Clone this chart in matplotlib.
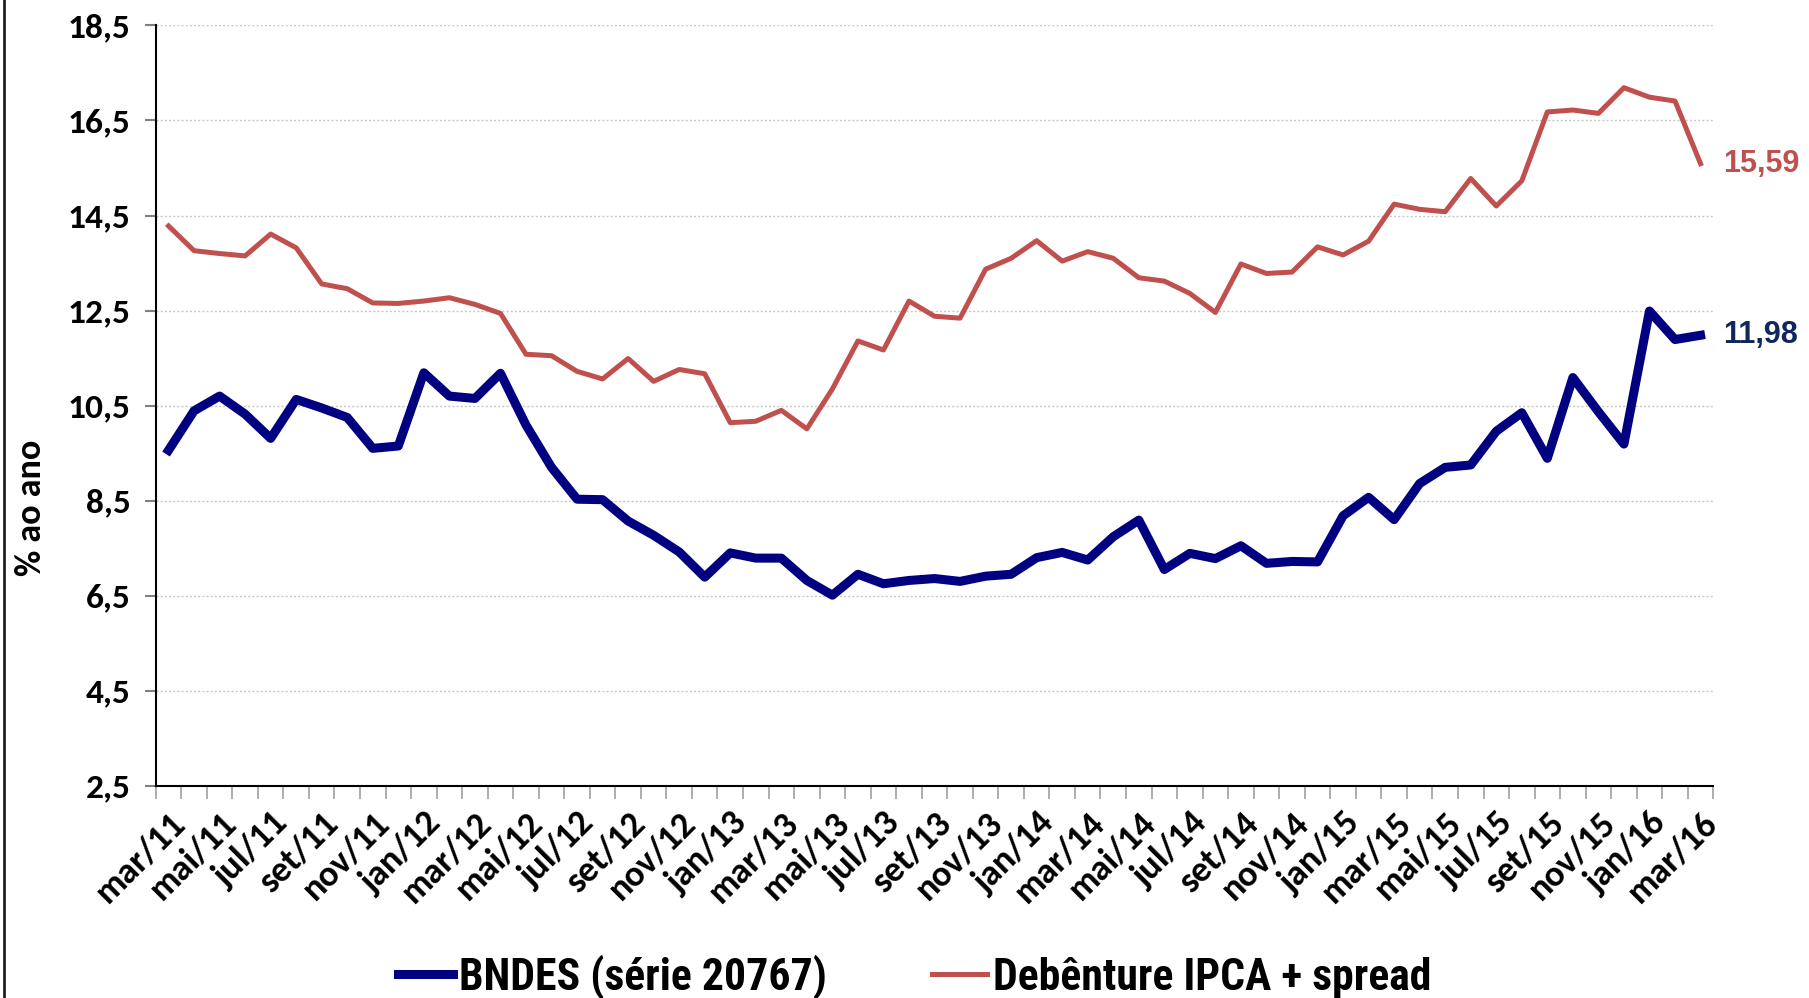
# recreate BNDES x Debenture chart
import numpy as np
import matplotlib.pyplot as plt
from matplotlib.lines import Line2D

# month labels mar/11 .. mar/16
meses = ['jan', 'fev', 'mar', 'abr', 'mai', 'jun', 'jul', 'ago', 'set', 'out', 'nov', 'dez']
datas = []
for ano in range(11, 17):
    for m in meses:
        datas.append(m + '/' + str(ano))
datas = datas[2:63]

# taxas (% ao ano)
bndes = [9.56, 10.39, 10.70, 10.32, 9.81, 10.63, 10.45, 10.25, 9.60, 9.65,
         11.19, 10.70, 10.65, 11.18, 10.09, 9.20, 8.53, 8.52, 8.07, 7.77,
         7.42, 6.89, 7.40, 7.29, 7.29, 6.82, 6.51, 6.95, 6.75, 6.82,
         6.86, 6.80, 6.91, 6.95, 7.30, 7.41, 7.25, 7.74, 8.09, 7.05,
         7.39, 7.28, 7.55, 7.18, 7.22, 7.21, 8.18, 8.57, 8.10, 8.86,
         9.20, 9.25, 9.96, 10.35, 9.39, 11.09, 10.37, 9.69, 12.49, 11.89,
         11.98]
debenture = [14.28, 13.76, 13.70, 13.65, 14.11, 13.82, 13.06, 12.96, 12.66, 12.65,
             12.70, 12.77, 12.63, 12.44, 11.58, 11.55, 11.22, 11.06, 11.49, 11.01,
             11.26, 11.17, 10.14, 10.17, 10.40, 10.01, 10.85, 11.86, 11.67, 12.70,
             12.38, 12.34, 13.37, 13.60, 13.97, 13.54, 13.74, 13.60, 13.19, 13.12,
             12.86, 12.46, 13.48, 13.28, 13.31, 13.84, 13.67, 13.96, 14.74, 14.63,
             14.58, 15.28, 14.70, 15.23, 16.68, 16.72, 16.65, 17.19, 16.99, 16.91,
             15.59]
yticks = [2.5, 4.5, 6.5, 8.5, 10.5, 12.5, 14.5, 16.5, 18.5]

azul = '#000080'
vermelho = '#C0504D'
fonte = ['Carlito', 'DejaVu Sans']

fig = plt.figure(figsize=(18.09, 9.98), dpi=100)
ax = fig.add_axes([0.0861, 0.2127, 0.861, 0.7618])

x = np.arange(len(datas))
l1, = ax.plot(x, bndes, color=azul, lw=6.5, label='BNDES (série 20767)')
l2, = ax.plot(x, debenture, color=vermelho, lw=3.6, label='Debênture IPCA + spread')

ax.set_xlim(-0.5, len(datas) - 0.5)
ax.set_ylim(2.5, 18.5)

# y axis
ax.set_yticks(yticks)
ax.set_yticklabels([('%.1f' % v).replace('.', ',') for v in yticks],
                   fontfamily=fonte, fontweight='bold', fontsize=25.5)
ax.yaxis.grid(True, linestyle=(0, (1.5, 1.5)), color='#C8C8C8', lw=1)
ax.tick_params(axis='y', direction='out', length=8, width=1.5, color='#808080', pad=10)

# x axis: ticks on category boundaries, labels every 2 months
ax.set_xticks(np.arange(-0.5, len(datas), 1.0))
ax.set_xticklabels([])
ax.tick_params(axis='x', which='major', direction='out', length=9, width=1.2, color='#A0A0A0')
ax.set_xticks(x[::2], minor=True)
ax.set_xticklabels(datas[::2], minor=True, rotation=45, ha='right', va='top',
                   rotation_mode='anchor', fontfamily=fonte, fontweight='bold', fontsize=26)
ax.tick_params(axis='x', which='minor', length=0, pad=15)

for s in ['top', 'right']:
    ax.spines[s].set_visible(False)
ax.spines['left'].set_linewidth(1.5)
ax.spines['bottom'].set_linewidth(1.5)

# labels at end of lines
ax.annotate('15,59', xy=(x[-1], debenture[-1]), xytext=(16, 0), textcoords='offset points',
            va='center', ha='left', color=vermelho, fontsize=22, fontweight='bold',
            fontfamily=['Liberation Sans', 'DejaVu Sans'], annotation_clip=False)
ax.annotate('11,98', xy=(x[-1], bndes[-1]), xytext=(16, 0), textcoords='offset points',
            va='center', ha='left', color='#10275E', fontsize=22, fontweight='bold',
            fontfamily=['Liberation Sans', 'DejaVu Sans'], annotation_clip=False)

fig.text(31 / 1809, 1 - 508 / 998, '% ao ano', rotation=90, ha='center', va='center',
         fontfamily=fonte, fontweight='bold', fontsize=26)

leg = fig.legend(handles=[l1, l2], loc='center left', bbox_to_anchor=(0.22, 1 - 977 / 998),
                 ncol=2, frameon=False, handlelength=1.25, handletextpad=0.15,
                 columnspacing=2.4, borderpad=0, borderaxespad=0,
                 prop={'family': ['Roboto Condensed', 'DejaVu Sans'], 'weight': 'bold', 'size': 31.5})

# chart frame left border
fig.add_artist(Line2D([0.002, 0.002], [0, 1], color='#222222', lw=2, transform=fig.transFigure))

fig.savefig('out.png', dpi=100)
